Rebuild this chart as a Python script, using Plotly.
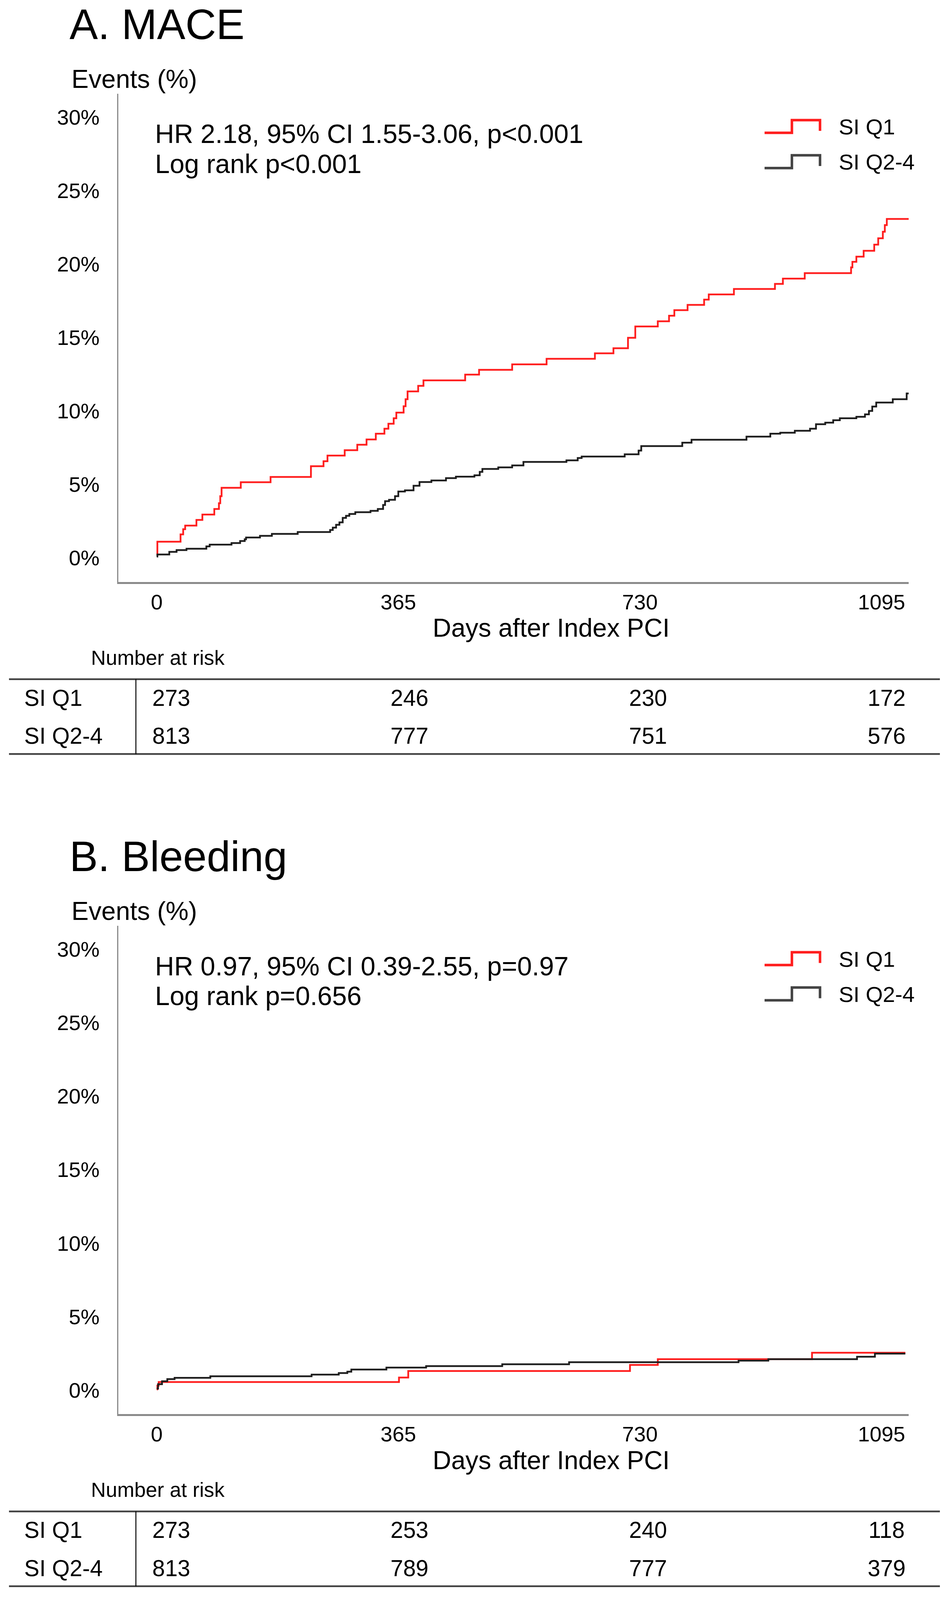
import plotly.graph_objects as go

# ---------------- data ----------------
groups = ["SI Q1", "SI Q2-4"]
x_tick_days = [0, 365, 730, 1095]
y_tick_pct = [0, 5, 10, 15, 20, 25, 30]

# A. MACE  (cumulative event %, step function)
mace_q1_days = [0, 1, 36, 40, 43, 60, 69, 87, 94, 96, 98, 127, 172, 233, 252, 258, 284, 303, 317,
                331, 344, 350, 358, 362, 373, 376, 379, 395, 403, 466, 487, 537, 589, 662, 690, 712,
                723, 757, 774, 782, 802, 827, 834, 872, 934, 946, 979, 1049, 1051, 1057, 1068, 1084,
                1090, 1097, 1100, 1103, 1136]
mace_q1_pct = [0.2, 1.1, 1.6, 1.95, 2.2, 2.58, 2.95, 3.33, 3.72, 4.2, 4.77, 5.15, 5.51, 6.24, 6.58,
               6.96, 7.33, 7.7, 8.06, 8.45, 8.79, 9.13, 9.5, 9.89, 10.32, 10.8, 11.33, 11.71, 12.08,
               12.47, 12.8, 13.17, 13.55, 13.92, 14.27, 14.98, 15.75, 16.1, 16.48, 16.86, 17.22,
               17.58, 17.93, 18.3, 18.65, 19.01, 19.38, 19.77, 20.15, 20.5, 20.9, 21.32, 21.75,
               22.2, 22.65, 23.07, 23.07]

mace_q24_days = [0, 1, 19, 30, 45, 75, 80, 113, 126, 133, 135, 156, 174, 213, 262, 266, 271, 276,
                 281, 286, 291, 300, 323, 334, 342, 345, 351, 360, 365, 375, 388, 397, 415, 437, 452,
                 480, 488, 492, 516, 537, 554, 619, 636, 642, 707, 728, 732, 794, 808, 891, 927, 942,
                 964, 987, 996, 1010, 1022, 1032, 1057, 1070, 1076, 1081, 1087, 1112, 1133, 1136]
mace_q24_pct = [0.09, 0.23, 0.41, 0.53, 0.62, 0.78, 0.9, 1.01, 1.15, 1.27, 1.39, 1.5, 1.63, 1.76,
                1.9, 2.06, 2.25, 2.42, 2.72, 2.86, 2.99, 3.11, 3.2, 3.33, 3.6, 3.86, 3.95, 4.2, 4.52,
                4.6, 4.91, 5.16, 5.27, 5.43, 5.53, 5.62, 5.85, 6.05, 6.16, 6.29, 6.53, 6.64, 6.8, 6.9,
                7.05, 7.3, 7.61, 7.84, 8.04, 8.25, 8.45, 8.52, 8.65, 8.79, 9.1, 9.2, 9.37, 9.5, 9.6,
                9.77, 10.0, 10.3, 10.57, 10.8, 11.19, 11.19]

# B. Bleeding
bleed_q1_days = [0, 1, 3, 366, 380, 715, 757, 990, 1131]
bleed_q1_pct = [0.05, 0.3, 0.55, 0.85, 1.3, 1.71, 2.1, 2.54, 2.54]

bleed_q24_days = [0, 2, 8, 16, 27, 81, 234, 275, 288, 294, 347, 407, 522, 623, 879, 924, 1058, 1085, 1131]
bleed_q24_pct = [0.1, 0.4, 0.6, 0.75, 0.83, 0.94, 1.05, 1.16, 1.25, 1.4, 1.53, 1.63, 1.76, 1.9, 2.0,
                 2.1, 2.27, 2.48, 2.48]

# Number at risk
risk_mace_q1 = [273, 246, 230, 172]
risk_mace_q24 = [813, 777, 751, 576]
risk_bleed_q1 = [273, 253, 240, 118]
risk_bleed_q24 = [813, 789, 777, 379]

titles = ["A. MACE", "B. Bleeding"]
hr_texts = ["HR 2.18, 95% CI 1.55-3.06, p<0.001", "HR 0.97, 95% CI 0.39-2.55, p=0.97"]
logrank_texts = ["Log rank p<0.001", "Log rank p=0.656"]
y_axis_label = "Events (%)"
x_axis_label = "Days after Index PCI"
risk_label = "Number at risk"

# ---------------- layout helpers ----------------
# Layout positions are measured in the reference's 2438 x 4770 pixel grid and expressed as
# paper fractions; the page is drawn at the browser's real visible height so nothing is cut.
W, H_REF = 2438, 4770
H_OUT = 4096
FS = 0.94  # font scale for the shorter canvas
FONT = "Liberation Sans, Arial, Helvetica, sans-serif"
RED = "#FF1E1E"
BLACK = "#1E1E1E"


def px(x):
    return x / W


def py(y):
    return 1 - y / H_REF


def fsz(s):
    return round(s * FS, 1)


fig = go.Figure()

panels = [
    dict(q1=(mace_q1_days, mace_q1_pct), q24=(mace_q24_days, mace_q24_pct),
         risk=(risk_mace_q1, risk_mace_q24), off=0, xa="x", ya="y"),
    dict(q1=(bleed_q1_days, bleed_q1_pct), q24=(bleed_q24_days, bleed_q24_pct),
         risk=(risk_bleed_q1, risk_bleed_q24), off=2481, xa="x2", ya="y2"),
]

annotations = []
shapes = []
axis_common_x = dict(
    range=[-58, 1136], showgrid=False, zeroline=False, showline=True,
    linecolor="#8a8a8a", linewidth=4.5, ticks="", tickvals=x_tick_days,
    ticktext=[str(d) for d in x_tick_days],
    tickfont=dict(family=FONT, size=fsz(58), color="black"), ticklabelstandoff=0,
    fixedrange=True,
)
axis_common_y = dict(
    range=[-1.64, 31.6], showgrid=False, zeroline=False, showline=True,
    linecolor="#8a8a8a", linewidth=3, ticks="", tickvals=y_tick_pct,
    ticktext=[f"{v}%" for v in y_tick_pct],
    tickfont=dict(family=FONT, size=fsz(58), color="black"), ticklabelstandoff=34,
    fixedrange=True,
)


def add_text(text, x, y, size, anchor="left"):
    annotations.append(dict(text=text, x=px(x), y=py(y), xref="paper", yref="paper",
                            xanchor=anchor, yanchor="middle", showarrow=False,
                            font=dict(family=FONT, size=fsz(size), color="black")))


layout_axes = {}
for i, p in enumerate(panels):
    off = p["off"]
    fig.add_trace(go.Scatter(x=p["q1"][0], y=p["q1"][1], mode="lines", line_shape="hv",
                             line=dict(color=RED, width=4.5), name=groups[0], showlegend=False,
                             xaxis=p["xa"], yaxis=p["ya"]))
    fig.add_trace(go.Scatter(x=p["q24"][0], y=p["q24"][1], mode="lines", line_shape="hv",
                             line=dict(color=BLACK, width=4.5), name=groups[1], showlegend=False,
                             xaxis=p["xa"], yaxis=p["ya"]))

    xname = "xaxis" if i == 0 else "xaxis2"
    yname = "yaxis" if i == 0 else "yaxis2"
    layout_axes[xname] = dict(axis_common_x, domain=[px(303), px(2327)], anchor=p["ya"])
    layout_axes[yname] = dict(axis_common_y, domain=[py(1735 + off), py(279 + off)], anchor=p["xa"])

    add_text(titles[i], 176, 72 + off, 116)
    add_text(y_axis_label, 181, 235 + off, 70)
    add_text(hr_texts[i], 395, 399 + off, 72)
    add_text(logrank_texts[i], 395, 488 + off, 72)

    # legend (custom step symbols)
    for g, (col, cy) in enumerate([(RED, 377), ("#444444", 482)]):
        ybot, ytop = cy + 19 + off, cy - 19 + off
        path = (f"M {px(1958)},{py(ybot)} L {px(2028)},{py(ybot)} L {px(2028)},{py(ytop)} "
                f"L {px(2100)},{py(ytop)} L {px(2100)},{py(ybot - 6)}")
        shapes.append(dict(type="path", xref="paper", yref="paper", path=path,
                           line=dict(color=col, width=6.5)))
        add_text(groups[g], 2146, cy + 1 + off, 60)

    add_text(x_axis_label, 1411, 1872 + off, 70, anchor="center")
    add_text(risk_label, 231, 1960 + off, 56)

    # number-at-risk table rules
    for ly in (2025, 2248):
        shapes.append(dict(type="line", xref="paper", yref="paper", x0=px(23), x1=px(2407),
                           y0=py(ly + off), y1=py(ly + off), line=dict(color="#444444", width=4.5)))
    shapes.append(dict(type="line", xref="paper", yref="paper", x0=px(348), x1=px(348),
                       y0=py(2025 + off), y1=py(2248 + off), line=dict(color="black", width=2.5)))
    col_centers = [438, 1048, 1659, 2270]
    for r, (rowy, vals) in enumerate(zip([2080, 2194], p["risk"])):
        add_text(groups[r], 60, rowy + off, 62)
        for cx, v in zip(col_centers, vals):
            add_text(str(v), cx, rowy + off, 62, anchor="center")

fig.update_layout(
    width=W, height=H_OUT, margin=dict(l=0, r=0, t=0, b=0),
    paper_bgcolor="white", plot_bgcolor="white", showlegend=False,
    annotations=annotations, shapes=shapes, **layout_axes,
)

fig.write_html("out.html", config={"displayModeBar": False},
               post_script="document.body.style.margin='0px';")
